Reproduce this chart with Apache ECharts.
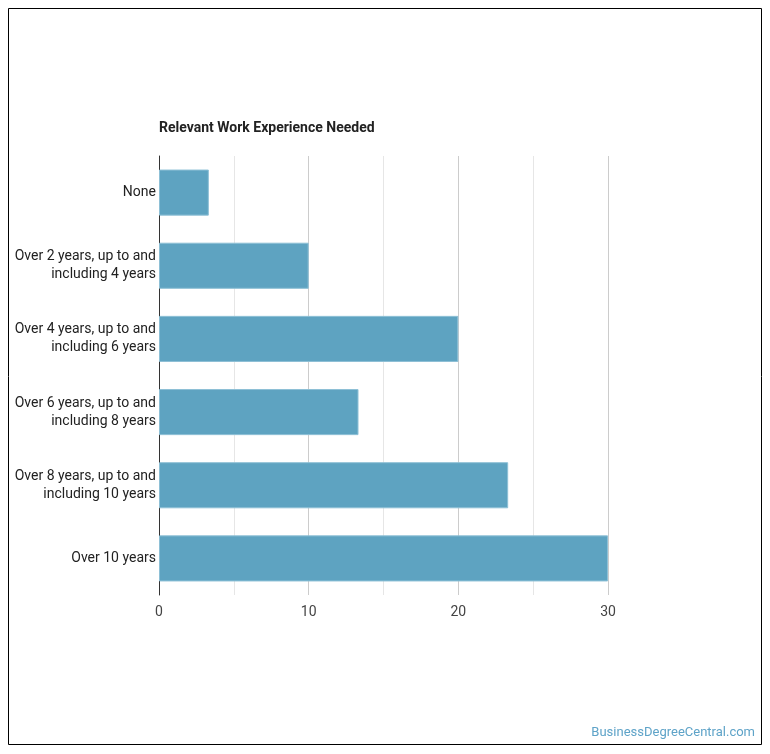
<!DOCTYPE html>
<html>
<head>
<meta charset="utf-8">
<script src="https://cdn.jsdelivr.net/npm/echarts@6/dist/echarts.min.js"></script>
<style>
	html, body { margin: 0; padding: 0; background: #fff; }
	#charts { width: 770px; height: 754px; }
</style>
</head>
<body>
<div id="charts"></div>
<script>
var categories = [
	'None',
	'Over 2 years, up to and\nincluding 4 years',
	'Over 4 years, up to and\nincluding 6 years',
	'Over 6 years, up to and\nincluding 8 years',
	'Over 8 years, up to and\nincluding 10 years',
	'Over 10 years'
];
var values = [3.33, 10, 20, 13.33, 23.33, 30];
var xTicks = [0, 10, 20, 30];

$(function () {
	initCharts();
});

function $(fn) { document.addEventListener('DOMContentLoaded', fn); }

//初始化图
function initCharts() {
	var charts = echarts.init(document.getElementById('charts'));
	var option = {
		animation: false,
		textStyle: { fontFamily: 'Roboto' },
		title: {
			text: 'Relevant Work Experience Needed',
			left: 154,
			top: 116,
			textStyle: { fontSize: 14, fontWeight: 'bold', color: '#222', fontFamily: 'Roboto' }
		},
		grid: { left: 159, right: 162, top: 156, bottom: 159 },
		xAxis: {
			type: 'value',
			min: 0,
			max: 30,
			interval: 10,
			axisLine: { show: false },
			axisTick: { show: false },
			axisLabel: {
				margin: 10,
				fontSize: 14,
				color: '#444',
				formatter: function (v) { return xTicks.indexOf(v) >= 0 ? String(v) : ''; }
			},
			splitLine: { show: true, lineStyle: { color: '#cccccc', width: 1 } },
			minorTick: { show: false, splitNumber: 2 },
			minorSplitLine: { show: true, lineStyle: { color: '#e6e6e6', width: 1 } }
		},
		yAxis: {
			type: 'category',
			inverse: true,
			data: categories,
			axisLine: { show: true, lineStyle: { color: '#333', width: 1 } },
			axisTick: { show: false },
			axisLabel: {
				margin: 3,
				fontSize: 14,
				lineHeight: 18,
				color: '#222',
				align: 'right'
			}
		},
		series: [{
			type: 'bar',
			data: values,
			barWidth: '63%',
			itemStyle: { color: '#5ea3c1', borderColor: '#8ec0d6', borderWidth: 1 }
		}],
		graphic: [
			{
				type: 'rect',
				shape: { x: 8.5, y: 8.5, width: 753, height: 736 },
				style: { fill: 'none', stroke: '#000', lineWidth: 1 },
				silent: true
			},
			{
				type: 'text',
				right: 15,
				bottom: 15,
				style: {
					text: 'BusinessDegreeCentral.com',
					fill: '#5ea3c8',
					font: '13px Roboto'
				}
			}
		]
	};
	charts.setOption(option);
}
</script>
</body>
</html>
